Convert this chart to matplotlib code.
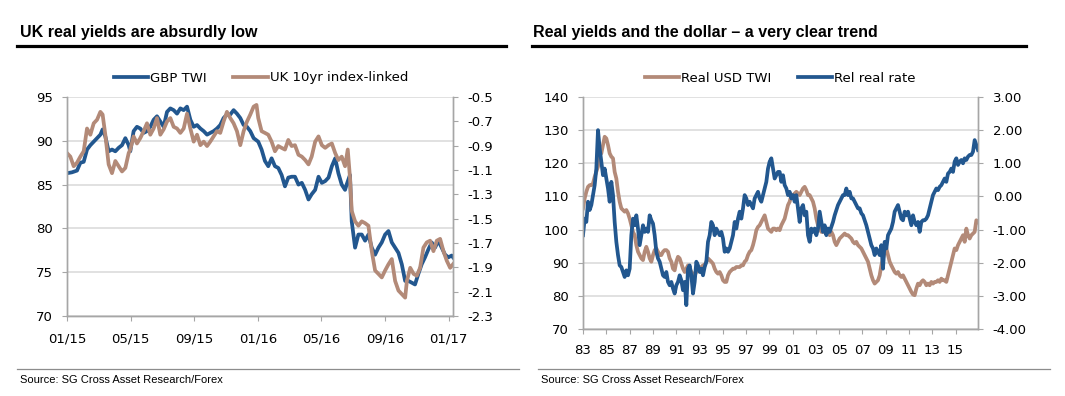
import numpy as np
import matplotlib
matplotlib.use("Agg")
import matplotlib.pyplot as plt
from matplotlib.lines import Line2D

# ---------------- data: left panel (months since Jan 2015) ----------------
gbp_months = [0, 0.31, 0.63, 0.84, 1.05, 1.26, 1.47, 1.68, 1.89, 2.10, 2.24, 2.41, 2.62, 2.83, 3.04,
              3.25, 3.46, 3.67, 3.88, 3.98, 4.19, 4.40, 4.61, 4.82, 5.03, 5.24, 5.45, 5.66, 5.87, 6.08,
              6.29, 6.50, 6.71, 6.92, 7.13, 7.34, 7.55, 7.76, 7.97, 8.18, 8.39, 8.60, 8.81, 9.01, 9.22,
              9.43, 9.64, 9.85, 10.06, 10.27, 10.48, 10.69, 10.90, 11.11, 11.32, 11.53, 11.74, 12.03,
              12.24, 12.45, 12.66, 12.87, 13.08, 13.29, 13.50, 13.71, 13.92, 14.13, 14.34, 14.56, 14.77,
              14.98, 15.19, 15.39, 15.61, 15.82, 16.03, 16.24, 16.45, 16.66, 16.87, 17.07, 17.28, 17.49,
              17.59, 17.80, 17.91, 18.12, 18.33, 18.54, 18.75, 18.96, 19.17, 19.38, 19.59, 19.80, 20.01,
              20.22, 20.43, 20.64, 20.85, 21.06, 21.27, 21.48, 21.69, 21.89, 22.10, 22.31, 22.52, 22.73,
              22.94, 23.15, 23.36, 23.57, 23.78, 23.99, 24.20, 24.28]
gbp_twi = [86.3, 86.4, 86.6, 87.5, 87.6, 89.0, 89.5, 89.9, 90.3, 90.7, 91.3, 90.5, 88.8, 89.0, 88.8,
           89.2, 89.5, 90.3, 89.5, 88.8, 91.1, 91.6, 91.4, 90.9, 91.1, 91.6, 92.4, 92.8, 92.2, 91.6,
           93.3, 93.7, 93.5, 93.1, 93.7, 93.5, 93.9, 92.4, 91.6, 91.8, 91.4, 91.1, 90.7, 90.9, 91.1,
           91.4, 91.8, 92.6, 93.0, 93.0, 93.5, 93.1, 92.6, 91.8, 91.6, 91.1, 90.3, 89.9,
           89.0, 87.7, 87.1, 88.0, 87.1, 86.9, 86.1, 84.8, 85.8, 85.9, 85.9, 85.0, 85.2,
           84.4, 83.3, 83.9, 84.4, 85.9, 85.2, 85.4, 85.8, 87.1, 88.0, 86.3, 85.0, 84.4,
           85.0, 86.1, 80.8, 77.8, 79.3, 79.3, 78.6, 79.3, 77.8, 77.0, 77.8, 78.4, 79.3,
           79.7, 78.4, 77.8, 77.2, 75.9, 74.0, 74.0, 73.8, 73.6, 74.8, 75.9, 76.7, 77.6,
           78.4, 77.8, 78.6, 77.8, 77.0, 76.7, 76.9, 76.7]

ilg_months = [0, 0.21, 0.42, 0.63, 0.84, 1.05, 1.26, 1.47, 1.68, 1.89, 2.10, 2.24, 2.41, 2.62, 2.83,
              3.04, 3.25, 3.46, 3.67, 3.88, 3.98, 4.19, 4.40, 4.61, 4.82, 5.03, 5.24, 5.45, 5.66, 5.87,
              6.08, 6.29, 6.50, 6.71, 6.92, 7.13, 7.34, 7.55, 7.76, 7.97, 8.18, 8.39, 8.60, 8.81, 9.01,
              9.22, 9.43, 9.64, 9.85, 10.06, 10.27, 10.48, 10.69, 10.90, 11.11, 11.32, 11.53, 11.74,
              11.92, 12.03, 12.24, 12.45, 12.66, 12.87, 13.08, 13.29, 13.50, 13.71, 13.92, 14.13, 14.34,
              14.56, 14.77, 14.98, 15.19, 15.39, 15.61, 15.82, 16.03, 16.24, 16.45, 16.66, 16.87, 17.07,
              17.28, 17.49, 17.66, 17.80, 17.91, 18.12, 18.33, 18.54, 18.75, 18.96, 19.17, 19.38, 19.59,
              19.80, 20.01, 20.22, 20.43, 20.64, 20.85, 21.06, 21.27, 21.38, 21.59, 21.80, 22.00, 22.21,
              22.42, 22.63, 22.84, 23.05, 23.26, 23.47, 23.68, 23.89, 24.10, 24.28]
uk_ilg = [-0.961, -0.99, -1.069, -1.04, -0.99, -0.946, -0.759, -0.81, -0.716, -0.687, -0.622, -0.644,
          -0.81, -1.054, -1.126, -1.026, -1.069, -1.112, -1.083, -0.961, -0.932, -0.824, -0.882, -0.838,
          -0.781, -0.716, -0.81, -0.759, -0.673, -0.81, -0.766, -0.702, -0.673, -0.745, -0.759, -0.795,
          -0.759, -0.637, -0.759, -0.867, -0.81, -0.896, -0.867, -0.903, -0.867, -0.824, -0.781, -0.795,
          -0.702, -0.622, -0.673, -0.716, -0.781, -0.896, -0.781, -0.702, -0.644, -0.579, -0.565, -0.673,
          -0.781, -0.795, -0.81, -0.867, -0.946, -0.903, -0.918, -0.932, -0.853, -0.903, -0.896, -0.975,
          -0.99, -1.018, -1.054, -0.99, -0.867, -0.824, -0.896, -0.918, -0.896, -0.882, -0.961, -1.018,
          -0.99, -1.069, -0.932, -1.162, -1.436, -1.522, -1.558, -1.522, -1.537, -1.558, -1.767, -1.926,
          -1.954, -1.983, -1.926, -1.875, -1.832, -2.012, -2.091, -2.12, -2.149, -2.012, -1.904, -1.954,
          -1.969, -1.904, -1.738, -1.695, -1.681, -1.767, -1.681, -1.666, -1.767, -1.846, -1.904, -1.875]

left_xticks = [0, 4, 8, 12, 16, 20, 24]
left_xlabels = ["01/15", "05/15", "09/15", "01/16", "05/16", "09/16", "01/17"]

# ---------------- data: right panel (1983 - end 2016, ~every 7.5 weeks) ----------------
real_usd_twi = [106.4, 109.4, 111.4, 112.9, 113.4, 113.4, 113.9, 115.9, 117.4, 119.0,
                122.5, 123.0, 125.5, 128.0, 127.5, 125.5, 123.0, 122.0, 121.5, 117.4,
                115.4, 111.4, 108.4, 106.4, 105.9, 105.4, 105.9, 104.9, 103.3, 101.3,
                99.3, 98.3, 95.3, 93.3, 92.3, 91.3, 90.8, 93.3, 94.8, 93.3,
                91.3, 90.3, 92.3, 93.8, 94.3, 93.3, 92.3, 92.3, 93.3, 93.8,
                93.8, 93.3, 91.3, 90.3, 88.2, 87.7, 90.3, 91.8, 91.3, 89.7,
                88.2, 87.2, 88.2, 89.2, 88.2, 87.2, 86.7, 86.2, 87.2, 88.2,
                88.2, 88.7, 89.2, 89.2, 90.3, 91.3, 90.8, 90.3, 89.7, 88.2,
                87.2, 86.7, 87.2, 86.2, 84.7, 84.2, 84.2, 86.2, 87.2, 87.7,
                88.2, 88.2, 88.7, 88.7, 88.7, 89.2, 89.2, 90.3, 90.8, 92.3,
                93.3, 93.8, 95.3, 97.3, 99.8, 100.8, 101.3, 102.3, 103.3, 104.3,
                102.3, 100.3, 99.8, 99.3, 100.3, 100.3, 99.8, 100.3,
                99.8, 101.3, 102.3, 103.3, 105.4, 107.4, 108.4, 110.4, 110.4, 110.9,
                111.4, 110.9, 110.4, 111.4, 112.4, 112.9, 111.9, 110.4, 110.4, 109.4,
                108.4, 106.4, 103.3, 101.3, 100.3, 99.3, 99.3, 100.3, 99.3, 100.3,
                98.3, 99.3, 98.3, 96.3, 95.3, 96.3, 97.3, 97.8, 98.3, 98.8,
                98.3, 98.3, 97.8, 97.3, 96.3, 95.8, 96.3, 95.3, 94.8, 94.3,
                93.3, 92.3, 91.3, 90.3, 88.2, 86.2, 84.7, 83.7, 84.2, 84.7,
                86.2, 89.2, 91.3, 93.3, 94.3, 92.3, 90.3, 89.2, 88.2, 87.2,
                86.7, 87.2, 86.2, 85.7, 86.2, 85.2, 84.2, 83.2, 82.2, 81.2,
                80.4, 80.2, 82.2, 83.7, 83.2, 84.2, 84.7, 84.2, 83.2, 83.7,
                83.2, 84.2, 83.7, 84.2, 84.2, 84.7, 84.2, 85.2, 84.7, 84.7,
                84.2, 86.2, 88.2, 90.3, 92.3, 94.3, 93.8, 95.3, 96.3, 97.3,
                98.3, 96.3, 100.3, 98.3, 97.3, 98.3, 98.8, 99.3, 102.8, 102.3]
rel_real_rate = [-1.17, -0.67, -0.77, -0.16, -0.41, -0.26, 0.04, 0.34, 0.84, 2.00,
                 1.45, 1.05, 0.64, 0.84, 0.54, 0.24, -0.16, 0.44, 0.04, -0.77,
                 -1.37, -1.77, -2.08, -2.13, -2.28, -2.43, -2.23, -2.38, -2.18, -1.17,
                 -0.67, -0.87, -0.57, -0.97, -1.47, -1.17, -0.87, -1.07, -0.97, -1.07,
                 -0.57, -0.72, -0.82, -1.17, -1.67, -1.87, -1.97, -2.18, -2.38, -2.43,
                 -2.28, -2.58, -2.68, -2.58, -2.78, -2.93, -2.68, -2.58, -2.38, -2.53,
                 -2.83, -2.58, -3.28, -2.18, -2.08, -2.38, -2.93, -2.58, -1.97, -2.08,
                 -2.28, -2.18, -2.38, -2.13, -1.97, -1.37, -1.17, -0.77, -0.87, -1.17,
                 -0.97, -1.07, -1.17, -1.07, -1.27, -1.67, -1.57, -1.67, -1.57, -1.37,
                 -1.17, -0.77, -0.97, -0.67, -0.46, -0.67, -0.36, 0.04, -0.06, -0.26,
                 -0.16, -0.26, -0.36, -0.06, 0.04, 0.14, -0.06, -0.16, 0.04, 0.24,
                 0.44, 0.84, 1.05, 1.15, 0.84, 0.54, 0.64, 0.74,
                 0.74, 0.44, 0.64, 0.34, 0.24, 0.04, 0.14, -0.06, 0.04, -0.16,
                 0.04, -0.36, -0.77, -0.36, -0.26, -0.57, -0.46, -1.17, -1.37, -0.97,
                 -1.07, -0.97, -1.17, -0.97, -0.46, -0.77, -1.07, -0.87, -1.17, -0.97,
                 -1.07, -0.92, -0.77, -0.57, -0.41, -0.26, -0.16, -0.06, 0.04, 0.04,
                 0.24, 0.04, 0.14, -0.06, -0.06, -0.16, -0.26, -0.36, -0.36, -0.51,
                 -0.57, -0.72, -0.87, -1.07, -1.27, -1.47, -1.57, -1.77, -1.57, -1.67,
                 -1.77, -1.47, -2.18, -1.37, -1.57, -1.17, -1.07, -0.97, -0.77, -0.46,
                 -0.36, -0.26, -0.46, -0.67, -0.72, -0.46, -0.57, -0.46, -0.67, -0.87,
                 -0.57, -0.77, -0.87, -0.77, -1.07, -0.77, -0.72, -0.72, -0.67, -0.57,
                 -0.36, -0.16, 0.04, 0.14, 0.24, 0.19, 0.29, 0.34, 0.44, 0.54,
                 0.44, 0.69, 0.74, 0.84, 0.74, 1.05, 1.15, 0.95, 1.05, 1.10,
                 1.00, 1.15, 1.10, 1.20, 1.25, 1.25, 1.35, 1.70, 1.55, 1.40]
usd_years = np.linspace(1983.0, 2016.93, len(real_usd_twi))
right_xticks = list(range(1983, 2016, 2))
right_xlabels = ["%02d" % (y % 100) for y in right_xticks]

# ---------------- style ----------------
BLUE = "#22578F"
BROWN = "#B38A78"
GRID = "#D9D9D9"
SPINE = "#A6A6A6"
LW = 2.7
plt.rcParams["font.family"] = ["DejaVu Sans"]
plt.rcParams["axes.unicode_minus"] = False

W, H = 1065, 396
fig = plt.figure(figsize=(W / 100, H / 100), dpi=100)


def fx(px):
    return px / W


def fy(py):
    return 1 - py / H


def style(ax, ax2):
    for a in (ax, ax2):
        a.spines["top"].set_visible(False)
        for s in ("left", "right", "bottom"):
            a.spines[s].set_color(SPINE)
            a.spines[s].set_linewidth(1.0)
    ax.grid(axis="y", color=GRID, lw=1.1)
    ax.set_axisbelow(True)
    ax.tick_params(axis="both", colors=SPINE, labelcolor="black", length=3.6, width=0.8,
                   labelsize=9.5)
    ax2.tick_params(axis="y", colors=SPINE, labelcolor="black", length=3.6, width=0.8,
                    labelsize=9.5)


# ---------------- left panel ----------------
axL = fig.add_axes([fx(67), fy(316), fx(453) - fx(67), fy(97) - fy(316)])
axL2 = axL.twinx()
lb, = axL.plot(gbp_months, gbp_twi, color=BLUE, lw=LW, solid_joinstyle="round")
lr, = axL2.plot(ilg_months, uk_ilg, color=BROWN, lw=LW, solid_joinstyle="round")
axL.set_xlim(0, 24.28)
axL.set_ylim(70, 95)
axL.set_yticks(range(70, 96, 5))
axL2.set_ylim(-2.3, -0.5)
r_ticks = [-2.3, -2.1, -1.9, -1.7, -1.5, -1.3, -1.1, -0.9, -0.7, -0.5]
axL2.set_yticks(r_ticks)
axL2.set_yticklabels(["%.1f" % t for t in r_ticks])
axL.set_xticks(left_xticks)
axL.set_xticklabels(left_xlabels)
style(axL, axL2)
axL.tick_params(axis="y", pad=6.5)
axL.tick_params(axis="x", pad=8.5)
axL2.tick_params(axis="y", pad=7)
axL.legend([lb, lr], ["GBP TWI", "UK 10yr index-linked"], loc="center",
           bbox_to_anchor=(fx(261), fy(78)), bbox_transform=fig.transFigure, ncol=2,
           frameon=False, fontsize=9.5, handlelength=2.6, handletextpad=0.15,
           columnspacing=2.0, borderpad=0)

# ---------------- right panel ----------------
axR = fig.add_axes([fx(583), fy(329), fx(978) - fx(583), fy(97) - fy(329)])
axR2 = axR.twinx()
rb, = axR.plot(usd_years, real_usd_twi, color=BROWN, lw=LW, solid_joinstyle="round")
rr, = axR2.plot(usd_years, rel_real_rate, color=BLUE, lw=LW, solid_joinstyle="round")
axR.set_xlim(1983, 2016.93)
axR.set_ylim(70, 140)
axR.set_yticks(range(70, 141, 10))
axR2.set_ylim(-4, 3)
rr_ticks = [-4, -3, -2, -1, 0, 1, 2, 3]
axR2.set_yticks(rr_ticks)
axR2.set_yticklabels(["%.2f" % t for t in rr_ticks])
axR.set_xticks(right_xticks)
axR.set_xticklabels(right_xlabels)
style(axR, axR2)
axR.tick_params(axis="y", pad=6.5)
axR.tick_params(axis="x", pad=7)
axR2.tick_params(axis="y", pad=7)
axR.legend([rb, rr], ["Real USD TWI", "Rel real rate"], loc="center",
           bbox_to_anchor=(fx(780), fy(78)), bbox_transform=fig.transFigure, ncol=2,
           frameon=False, fontsize=9.5, handlelength=2.6, handletextpad=0.15,
           columnspacing=2.0, borderpad=0)

# ---------------- titles, rules, sources ----------------
title_font = dict(family=["Liberation Sans", "DejaVu Sans"], fontsize=11.5, fontweight="bold",
                  color="black", va="baseline", ha="left")
fig.text(fx(20), fy(37.3), "UK real yields are absurdly low", **title_font)
fig.text(fx(533), fy(37.3), "Real yields and the dollar \u2013 a very clear trend", **title_font)
fig.add_artist(Line2D([fx(17), fx(506)], [fy(46), fy(46)], color="black", lw=2.3))
fig.add_artist(Line2D([fx(532), fx(1026)], [fy(46), fy(46)], color="black", lw=2.3))

fig.add_artist(Line2D([fx(17), fx(519)], [fy(369.3), fy(369.3)], color="#8C8C8C", lw=0.9))
fig.add_artist(Line2D([fx(538), fx(1050)], [fy(369.3), fy(369.3)], color="#8C8C8C", lw=0.9))
src_font = dict(family=["Liberation Sans", "DejaVu Sans"], fontsize=8, color="black",
                va="baseline", ha="left")
fig.text(fx(20.5), fy(383.3), "Source: SG Cross Asset Research/Forex", **src_font)
fig.text(fx(541), fy(383.3), "Source: SG Cross Asset Research/Forex", **src_font)

fig.savefig("out.png", dpi=100)
